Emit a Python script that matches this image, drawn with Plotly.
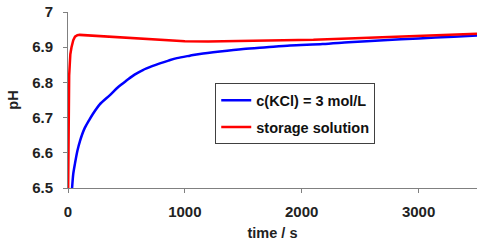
import plotly.graph_objects as go

# Blue: c(KCl) = 3 mol/L
t_kcl = [35, 45, 60, 80, 103, 140, 180, 214, 270, 359, 430, 504, 570, 641, 720,
         786, 860, 932, 1043, 1128, 1300, 1500, 1700, 1900, 2179, 2400, 2700,
         3000, 3300, 3500]
ph_kcl = [6.50, 6.54, 6.57, 6.605, 6.634, 6.668, 6.692, 6.711, 6.737, 6.764, 6.787,
          6.806, 6.822, 6.835, 6.846, 6.854, 6.862, 6.869, 6.876, 6.881, 6.888,
          6.895, 6.90, 6.905, 6.909, 6.914, 6.92, 6.925, 6.93, 6.933]

# Red: storage solution
t_sto = [0, 5, 10, 15, 20, 30, 45, 60, 80, 100, 150, 250, 400, 600, 800, 1000,
         1200, 1500, 1800, 2100, 2400, 2700, 3000, 3300, 3500]
ph_sto = [6.45, 6.70, 6.82, 6.85, 6.88, 6.90, 6.92, 6.93, 6.934, 6.935, 6.934,
          6.932, 6.928, 6.923, 6.919, 6.917, 6.916, 6.917, 6.919, 6.921, 6.925,
          6.928, 6.932, 6.936, 6.938]

x_ticks = [0, 1000, 2000, 3000]
y_ticks = [6.5, 6.6, 6.7, 6.8, 6.9, 7]
y_labels = ["6.5", "6.6", "6.7", "6.8", "6.9", "7"]

FONT = "Liberation Sans, Arial, sans-serif"

fig = go.Figure()
fig.add_trace(go.Scatter(x=t_kcl, y=ph_kcl, mode="lines", name="c(KCl) = 3 mol/L",
                         line=dict(color="#0000ff", width=2.5, shape="spline",
                                   smoothing=0.8),
                         legendgroup="a"))
fig.add_trace(go.Scatter(x=t_sto, y=ph_sto, mode="lines", name="storage solution",
                         line=dict(color="#ff0000", width=2.5), legendgroup="b"))

fig.update_layout(
    width=480, height=244,
    margin=dict(l=68, r=3, t=9, b=56),
    paper_bgcolor="white", plot_bgcolor="white",
    font=dict(family=FONT, size=15, color="#000000"),
    legend=dict(x=0.36, y=0.595, xanchor="left", yanchor="top",
                bordercolor="#404040", borderwidth=1, bgcolor="white",
                font=dict(family=FONT, size=14.5, color="#111", weight="bold"),
                traceorder="grouped", tracegroupgap=5,
                itemwidth=30),
    showlegend=True,
)
fig.update_xaxes(range=[0, 3500], tickvals=x_ticks, showgrid=False, zeroline=False,
                 showline=True, linecolor="#808080", linewidth=1,
                 ticks="outside", ticklen=4, tickcolor="#808080",
                 ticklabelstandoff=6,
                 tickfont=dict(family=FONT, size=15, weight="bold", color="#222"),
                 title=dict(text="time / s", standoff=8,
                            font=dict(family=FONT, size=14.5, weight="bold",
                                      color="#222")))
fig.update_yaxes(range=[6.5, 7], tickvals=y_ticks, ticktext=y_labels,
                 showgrid=False, zeroline=False,
                 showline=True, linecolor="#808080", linewidth=1,
                 ticks="outside", ticklen=4, tickcolor="#808080",
                 ticklabelstandoff=7,
                 tickfont=dict(family=FONT, size=15, weight="bold", color="#222"),
                 title=dict(text="pH", standoff=10,
                            font=dict(family=FONT, size=14.5, weight="bold",
                                      color="#222")))

fig.write_html("out.html")
